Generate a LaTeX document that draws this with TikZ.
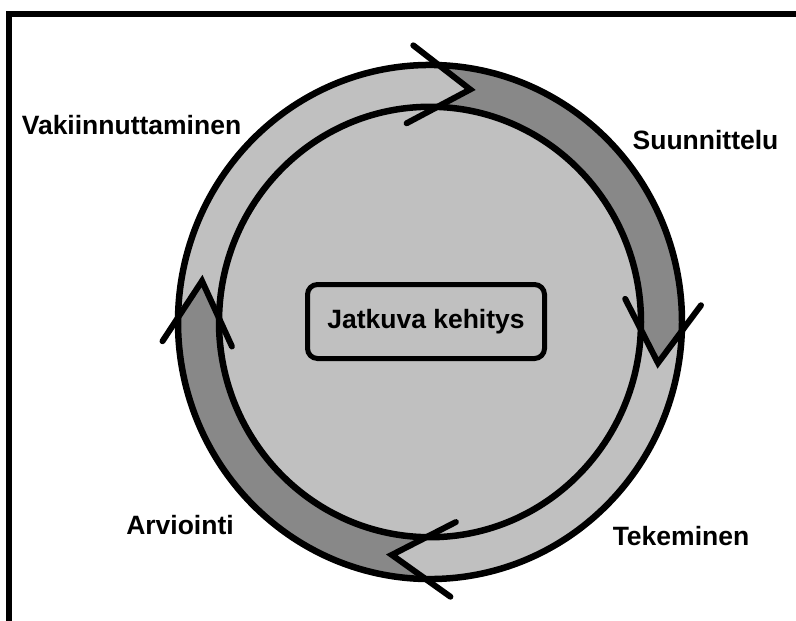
\documentclass[tikz,border=0pt]{standalone}
\usepackage{fontspec}
\setmainfont{Liberation Sans}
\usetikzlibrary{calc}
\definecolor{ringgray}{HTML}{C0C0C0}
\definecolor{bandgray}{HTML}{888888}
\begin{document}
\begin{tikzpicture}[x=1pt,y=-1pt,
  outline/.style={line width=6.5pt},
  chevron/.style={line width=6pt, line cap=round, line join=miter},
  phase/.style={font=\bfseries\fontsize{26.5}{30}\selectfont, inner sep=0pt},
  hubbox/.style={draw, line width=5pt, rounded corners=10pt,
    minimum width=237pt, minimum height=74pt, inner sep=0pt,
    font=\bfseries\fontsize{26.5}{30}\selectfont}]
\useasboundingbox (0,0) rectangle (796,621);
\fill[white] (0,0) rectangle (796,621);

% frame along the top and the left side
\draw[line width=6pt] (9,621) -- (9,14) -- (796,14);

% the cycle: a ring with two chevron bands running clockwise
\begin{scope}[shift={(430,322)}, yscale=1.02]
  \fill[ringgray] (0,0) circle[radius=252];

  % band from the top round to the right
  \coordinate (AtailTip) at (-80:231.5);
  \coordinate (AtailOut) at (-88:252);
  \coordinate (AtailIn)  at (-88:211);
  \coordinate (AheadTip) at (10:231.5);
  \coordinate (AheadOut) at (2:252);
  \coordinate (AheadIn)  at (2:211);
  \fill[bandgray] (AtailOut) arc[start angle=-88, end angle=2, radius=252]
    -- (AheadTip) -- (AheadIn) arc[start angle=2, end angle=-88, radius=211]
    -- (AtailTip) -- cycle;

  % band from the bottom round to the left
  \coordinate (BtailTip) at (99.5:231.5);
  \coordinate (BtailOut) at (91:252);
  \coordinate (BtailIn)  at (91:211);
  \coordinate (BheadTip) at (190:231.5);
  \coordinate (BheadOut) at (181:252);
  \coordinate (BheadIn)  at (181:211);
  \fill[bandgray] (BtailOut) arc[start angle=91, end angle=181, radius=252]
    -- (BheadTip) -- (BheadIn) arc[start angle=181, end angle=91, radius=211]
    -- (BtailTip) -- cycle;

  \draw[outline] (0,0) circle[radius=252];
  \draw[outline] (0,0) circle[radius=211];
\end{scope}

% chevrons crossing the ring at both ends of each band
\foreach \c in {Atail,Ahead,Btail,Bhead}{
  \draw[chevron] ($(\c Tip)!72pt!(\c Out)$) -- (\c Tip) -- ($(\c Tip)!72pt!(\c In)$);
}

% centre box
\node[hubbox] (hub) at (426,321.5) {Jatkuva kehitys};

% phase labels
\node[phase] (vak) at (131.5,125) {Vakiinnuttaminen};
\node[phase] (suu) at (705.5,140.5) {Suunnittelu};
\node[phase] (arv) at (180,525) {Arviointi};
\node[phase] (tek) at (681,536.5) {Tekeminen};
\end{tikzpicture}
\end{document}
